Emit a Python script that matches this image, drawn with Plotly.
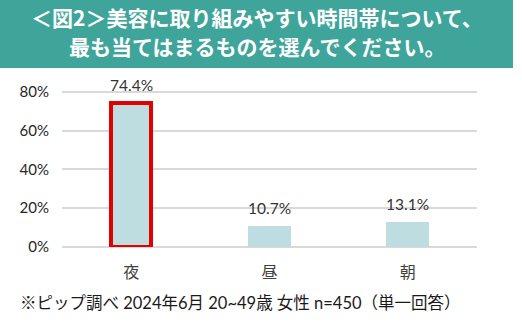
import plotly.graph_objects as go

categories = ["夜", "昼", "朝"]
values = [0.744, 0.107, 0.131]
labels = ["74.4%", "10.7%", "13.1%"]
tick_vals = [0, 0.2, 0.4, 0.6, 0.8]
tick_text = ["0%", "20%", "40%", "60%", "80%"]
title_lines = ["＜図2＞美容に取り組みやすい時間帯について、", "最も当てはまるものを選んでください。"]
note_text = "※ピップ調べ 2024年6月 20~49歳 女性 n=450（単一回答）"

FONT = "Lato, 'Noto Sans CJK JP', sans-serif"
JP = "'Noto Sans CJK JP', sans-serif"

fig = go.Figure()
fig.add_trace(go.Bar(
    x=categories, y=values,
    width=[0.285, 0.31, 0.31],
    marker=dict(color="#bddde0",
                line=dict(color=["#e30000", "rgba(0,0,0,0)", "rgba(0,0,0,0)"],
                          width=[4, 0, 0])),
    hoverinfo="skip",
))

for c, v, t in zip(categories, values, labels):
    fig.add_annotation(x=c, y=v, text=t, showarrow=False, yanchor="bottom",
                       yshift=7, font=dict(size=15.5, color="#333333", family=FONT))

L, R, T, B = 62, 45, 82, 77
W, H = 522, 324
pw, ph = W - L - R, H - T - B

def px(xp):
    return (xp - L) / pw

def py(yp):
    return (H - B - yp) / ph

fig.add_shape(type="rect", xref="paper", yref="paper",
              x0=px(0), x1=px(513), y0=py(68), y1=py(0),
              fillcolor="#3fa59b", line=dict(width=0), layer="below")

for line, yc in zip(title_lines, [17, 46]):
    fig.add_annotation(xref="paper", yref="paper", x=px(257), y=py(yc),
                       text="<b>" + line + "</b>", showarrow=False,
                       xanchor="center", yanchor="middle", borderpad=0,
                       font=dict(size=21, color="white", family=JP))

fig.add_annotation(xref="paper", yref="paper", x=px(18), y=py(303),
                   text=note_text, showarrow=False, xanchor="left", yanchor="middle",
                   font=dict(size=16.5, color="#1a1a1a", family=FONT))

fig.update_layout(
    width=W, height=H,
    margin=dict(l=L, r=R, t=T, b=B),
    paper_bgcolor="white", plot_bgcolor="white",
    showlegend=False,
    bargap=0.0,
    xaxis=dict(showline=False, showgrid=False, ticks="", ticklabelstandoff=14,
               tickfont=dict(size=16, color="#404040", family=JP)),
    yaxis=dict(range=[0, 0.85], tickvals=tick_vals, ticktext=tick_text,
               showgrid=True, gridcolor="#d9d9d9", gridwidth=2,
               zeroline=True, zerolinecolor="#d9d9d9", zerolinewidth=2,
               showline=False, ticks="", ticklabelstandoff=12,
               tickfont=dict(size=15, color="#262626", family=FONT)),
)

fig.write_html("out.html")
